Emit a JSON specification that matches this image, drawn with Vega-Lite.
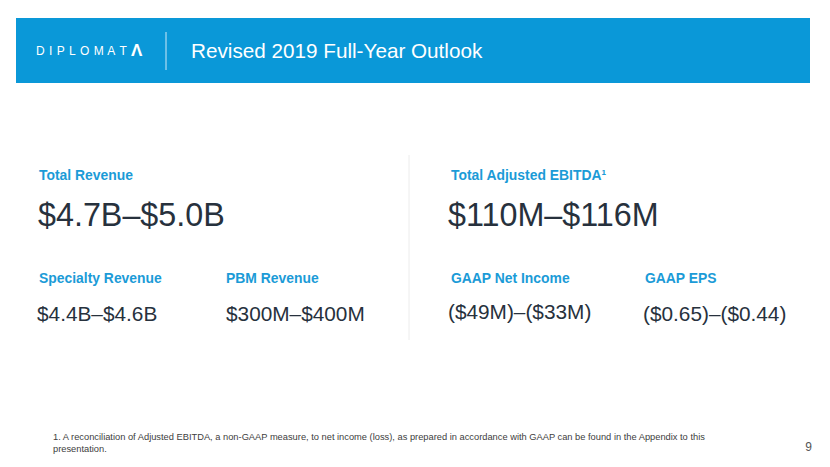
{
  "$schema": "https://vega.github.io/schema/vega-lite/v6.json",
  "width": 830,
  "height": 467,
  "autosize": {"type": "fit", "contains": "padding"},
  "padding": 0,
  "background": "white",
  "config": {"view": {"stroke": null}, "font": "Liberation Sans"},
  "datasets": {
    "boxes": [{"x": 16, "x2": 810, "y": 18, "y2": 83}],
    "rules": [
      {"x": 166, "y": 32, "y2": 70, "kind": "banner"},
      {"x": 409, "y": 155, "y2": 340, "kind": "divider"}
    ],
    "texts": [
      {"kind": "logo", "label": "D\u200a I\u200a P\u200a L\u200a O\u200a M\u200a A\u200a T", "x": 36, "y": 51},
      {"kind": "logoicon", "label": "Ʌ", "x": 131, "y": 51},
      {"kind": "title", "label": "Revised 2019 Full-Year Outlook", "x": 191, "y": 52},
      {"kind": "head", "label": "Total Revenue", "x": 39, "y": 176},
      {"kind": "head", "label": "Total Adjusted EBITDA¹", "x": 451, "y": 176},
      {"kind": "head", "label": "Specialty Revenue", "x": 39, "y": 279},
      {"kind": "head", "label": "PBM Revenue", "x": 226, "y": 279},
      {"kind": "head", "label": "GAAP Net Income", "x": 451, "y": 279},
      {"kind": "head", "label": "GAAP EPS", "x": 645, "y": 279},
      {"kind": "big", "label": "$4.7B–$5.0B", "x": 38, "y": 216},
      {"kind": "big", "label": "$110M–$116M", "x": 448, "y": 216},
      {"kind": "mid", "label": "$4.4B–$4.6B", "x": 37, "y": 315},
      {"kind": "mid", "label": "$300M–$400M", "x": 226, "y": 315},
      {"kind": "mid", "label": "($49M)–($33M)", "x": 448, "y": 313},
      {"kind": "mid", "label": "($0.65)–($0.44)", "x": 643, "y": 315},
      {"kind": "foot", "label": "1. A reconciliation of Adjusted EBITDA, a non-GAAP measure, to net income (loss), as prepared in accordance with GAAP can be found in the Appendix to this", "x": 53, "y": 437},
      {"kind": "foot", "label": "presentation.", "x": 53, "y": 449},
      {"kind": "page", "label": "9", "x": 812, "y": 447}
    ]
  },
  "encoding": {
    "x": {"field": "x", "type": "quantitative", "scale": {"domain": [0, 830], "nice": false, "zero": false}, "axis": null},
    "y": {"field": "y", "type": "quantitative", "scale": {"domain": [0, 467], "nice": false, "zero": false, "reverse": true}, "axis": null}
  },
  "layer": [
    {
      "data": {"name": "boxes"},
      "mark": {"type": "rect", "color": "#0a98d8"},
      "encoding": {"x2": {"field": "x2"}, "y2": {"field": "y2"}}
    },
    {
      "data": {"name": "rules"},
      "transform": [{"filter": "datum.kind === 'banner'"}],
      "mark": {"type": "rule", "color": "#cfe9f7", "strokeWidth": 1},
      "encoding": {"y2": {"field": "y2"}}
    },
    {
      "data": {"name": "rules"},
      "transform": [{"filter": "datum.kind === 'divider'"}],
      "mark": {"type": "rule", "color": "#ececec", "strokeWidth": 1},
      "encoding": {"y2": {"field": "y2"}}
    },
    {
      "data": {"name": "texts"},
      "transform": [{"filter": "datum.kind === 'logo'"}],
      "mark": {"type": "text", "align": "left", "baseline": "middle", "fontSize": 12, "color": "white", "font": "Liberation Sans"},
      "encoding": {"text": {"field": "label"}}
    },
    {
      "data": {"name": "texts"},
      "transform": [{"filter": "datum.kind === 'logoicon'"}],
      "mark": {"type": "text", "align": "left", "baseline": "middle", "fontSize": 17, "fontWeight": "bold", "color": "white"},
      "encoding": {"text": {"field": "label"}}
    },
    {
      "data": {"name": "texts"},
      "transform": [{"filter": "datum.kind === 'title'"}],
      "mark": {"type": "text", "align": "left", "baseline": "middle", "fontSize": 20.7, "color": "white"},
      "encoding": {"text": {"field": "label"}}
    },
    {
      "data": {"name": "texts"},
      "transform": [{"filter": "datum.kind === 'head'"}],
      "mark": {"type": "text", "align": "left", "baseline": "middle", "fontSize": 13.9, "fontWeight": "bold", "color": "#1b9bd7"},
      "encoding": {"text": {"field": "label"}}
    },
    {
      "data": {"name": "texts"},
      "transform": [{"filter": "datum.kind === 'big'"}],
      "mark": {"type": "text", "align": "left", "baseline": "middle", "fontSize": 32.3, "color": "#27313d"},
      "encoding": {"text": {"field": "label"}}
    },
    {
      "data": {"name": "texts"},
      "transform": [{"filter": "datum.kind === 'mid'"}],
      "mark": {"type": "text", "align": "left", "baseline": "middle", "fontSize": 20.8, "color": "#27313d"},
      "encoding": {"text": {"field": "label"}}
    },
    {
      "data": {"name": "texts"},
      "transform": [{"filter": "datum.kind === 'foot'"}],
      "mark": {"type": "text", "align": "left", "baseline": "middle", "fontSize": 9.3, "color": "#404040"},
      "encoding": {"text": {"field": "label"}}
    },
    {
      "data": {"name": "texts"},
      "transform": [{"filter": "datum.kind === 'page'"}],
      "mark": {"type": "text", "align": "right", "baseline": "middle", "fontSize": 12, "color": "#555555"},
      "encoding": {"text": {"field": "label"}}
    }
  ]
}
